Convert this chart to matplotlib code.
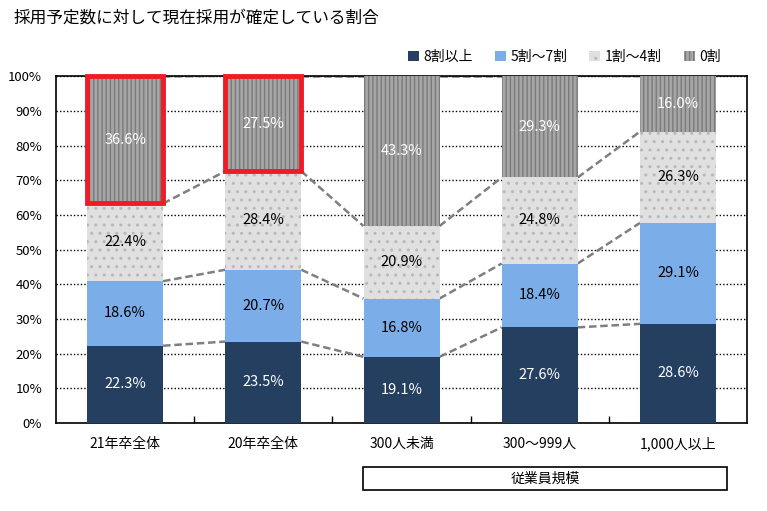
import matplotlib
matplotlib.use("Agg")
import matplotlib.pyplot as plt
from matplotlib.patches import Rectangle
import numpy as np

plt.rcParams['font.family'] = ['Noto Sans CJK JP', 'DejaVu Sans']
plt.rcParams['hatch.linewidth'] = 1.0

title = "採用予定数に対して現在採用が確定している割合"
categories = ["21年卒全体", "20年卒全体", "300人未満", "300～999人", "1,000人以上"]
series_names = ["8割以上", "5割～7割", "1割～4割", "0割"]
v_8plus = [22.3, 23.5, 19.1, 27.6, 28.6]
v_5to7 = [18.6, 20.7, 16.8, 18.4, 29.1]
v_1to4 = [22.4, 28.4, 20.9, 24.8, 26.3]
v_0 = [36.6, 27.5, 43.3, 29.3, 16.0]
group_label = "従業員規模"
highlight_idx = [0, 1]

series = [v_8plus, v_5to7, v_1to4, v_0]
facecolors = ["#243F60", "#7BAEE8", "#E0E0E0", "#A6A6A6"]
hatchcolors = ["#243F60", "#7BAEE8", "#B8B8B8", "#7A7A7A"]
hatches = [None, None, "..", "||||"]
textcolors = ["white", "black", "black", "white"]

fig = plt.figure(figsize=(7.67, 5.11), dpi=100)
ax = fig.add_axes([0.073, 0.172, 0.901, 0.679])

x = np.arange(len(categories))
w = 0.55
bottom = np.zeros(len(categories))
tops = []
for s, fc, hc, h, tc, name in zip(series, facecolors, hatchcolors, hatches, textcolors, series_names):
    vals = np.array(s)
    ax.bar(x, vals, w, bottom=bottom, color=fc, edgecolor=hc, linewidth=0,
           hatch=h, label=name, zorder=3)
    for xi, b, v in zip(x, bottom, vals):
        ax.text(xi, b + v / 2, f"{v:.1f}%", ha="center", va="center",
                color=tc, fontsize=10.5, zorder=5)
    bottom = bottom + vals
    tops.append(bottom.copy())

# dashed connector lines between segment boundaries
for t in tops:
    for i in range(len(categories) - 1):
        ax.plot([x[i] + w / 2, x[i + 1] - w / 2], [t[i], t[i + 1]],
                ls=(0, (3, 1.5)), color="#7F7F7F", lw=1.8, zorder=2)

# red highlight boxes around the 0割 segment
for i in highlight_idx:
    b = tops[2][i]
    t = tops[3][i]
    ax.add_patch(Rectangle((x[i] - w / 2, b), w, t - b, fill=False,
                           edgecolor="#EE1C25", lw=3.5, zorder=6, clip_on=False))

ax.set_xlim(-0.5, len(categories) - 0.5)
ax.set_ylim(0, 100)
ax.set_yticks(np.arange(0, 101, 10))
ax.set_yticklabels([f"{v}%" for v in range(0, 101, 10)], fontsize=9.5)
ax.set_xticks(x)
ax.set_xticklabels(categories, fontsize=10)
ax.tick_params(axis="y", length=0, pad=10)
ax.tick_params(axis="x", which="major", length=0, pad=10)
ax.set_xticks(np.arange(0.5, len(categories) - 1, 1), minor=True)
ax.tick_params(axis="x", which="minor", direction="in", length=5, width=1, color="black")
ax.yaxis.grid(True, ls=(0, (1, 1.5)), color="black", lw=1, zorder=1)
ax.set_axisbelow(True)
for sp in ax.spines.values():
    sp.set_linewidth(1.2)
    sp.set_color("black")

leg = ax.legend(loc="lower right", bbox_to_anchor=(0.97, 1.02), ncol=4, frameon=False,
                fontsize=10, handlelength=0.8, handleheight=0.8, handletextpad=0.3,
                columnspacing=1.6, borderaxespad=0)

fig.text(0.017, 0.965, title, fontsize=12, ha="left", va="center")

# group label box
gx0 = 1.72
gx1 = 4.355
ax.add_patch(Rectangle((gx0, -19.3), gx1 - gx0, 6.6, transform=ax.transData,
                       fill=False, edgecolor="black", lw=1.2, clip_on=False))
ax.text((gx0 + gx1) / 2, -16.0, group_label, ha="center", va="center", fontsize=10)

fig.savefig("out.png", dpi=100)
